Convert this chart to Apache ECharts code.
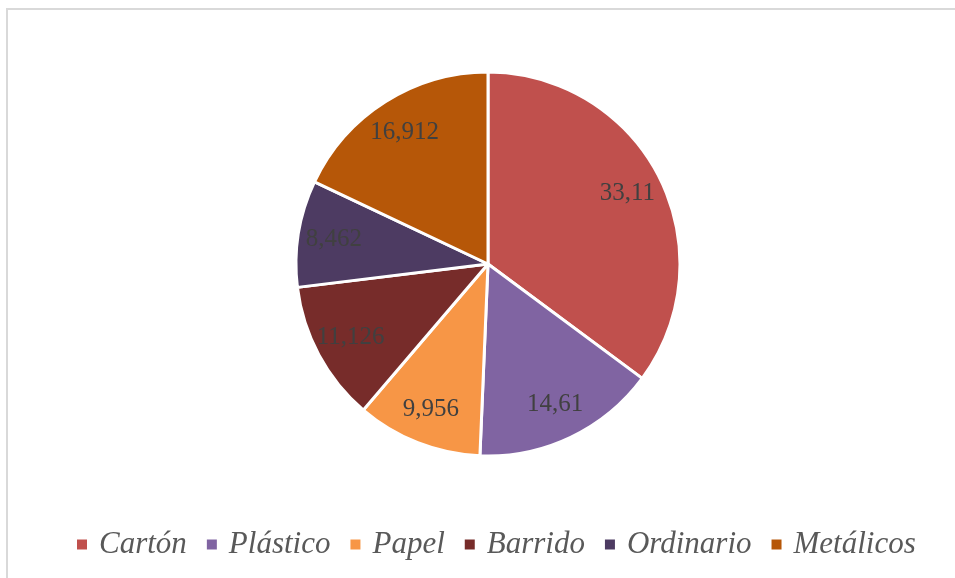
<!DOCTYPE html>
<html>
<head>
<meta charset="utf-8">
<script src="https://cdn.jsdelivr.net/npm/echarts@6/dist/echarts.min.js"></script>
<style>
  html, body { margin: 0; padding: 0; background: #ffffff; }
  #chart { width: 955px; height: 578px; }
</style>
</head>
<body>
<div id="chart"></div>
<script>
// Waste composition by category
const categories = ['Cartón', 'Plástico', 'Papel', 'Barrido', 'Ordinario', 'Metálicos'];
const values = [33.11, 14.61, 9.956, 11.126, 8.462, 16.912];
const colors = ['#C0504D', '#8064A2', '#F79646', '#772C2A', '#4D3B62', '#B65708'];

const pieData = categories.map((name, i) => ({
  name: name,
  value: values[i],
  itemStyle: { color: colors[i] }
}));

// Transparent ring over the pie, used only to place the value labels
const labelData = categories.map((name, i) => ({
  name: name,
  value: values[i],
  itemStyle: { color: 'rgba(0,0,0,0)', borderWidth: 0 }
}));

const chart = echarts.init(document.getElementById('chart'), null, { renderer: 'canvas' });

chart.setOption({
  animation: false,
  backgroundColor: '#ffffff',
  graphic: [{
    type: 'rect',
    shape: { x: 7, y: 9, width: 980, height: 620 },
    style: { fill: 'none', stroke: '#d9d9d9', lineWidth: 2 },
    silent: true,
    z: -10
  }],
  legend: {
    data: categories,
    bottom: 13,
    left: 70,
    icon: 'rect',
    itemWidth: 12,
    itemHeight: 12,
    itemGap: 18,
    selectedMode: false,
    textStyle: {
      fontFamily: 'Liberation Serif',
      fontStyle: 'italic',
      fontSize: 31,
      color: '#595959',
      padding: [0, 0, 0, 6]
    }
  },
  series: [
    {
      type: 'pie',
      center: [488, 264],
      radius: [0, 192],
      startAngle: 90,
      clockwise: true,
      silent: true,
      data: pieData,
      itemStyle: { borderColor: '#ffffff', borderWidth: 3 },
      label: { show: false },
      labelLine: { show: false },
      emphasis: { disabled: true }
    },
    {
      type: 'pie',
      center: [488, 264],
      radius: [112, 194],
      startAngle: 90,
      clockwise: true,
      silent: true,
      data: labelData,
      label: {
        show: true,
        position: 'inside',
        fontFamily: 'Liberation Serif',
        fontSize: 25,
        color: '#404040',
        formatter: p => String(p.value).replace('.', ',')
      },
      labelLine: { show: false },
      emphasis: { disabled: true }
    }
  ]
});
</script>
</body>
</html>
